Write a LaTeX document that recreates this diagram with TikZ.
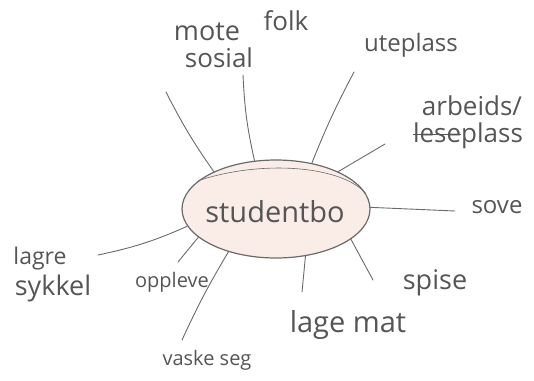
\documentclass[tikz,border=0pt]{standalone}
\usepackage{fontspec}
\setmainfont{Open Sans}
\usetikzlibrary{shapes.geometric}
\definecolor{ink}{HTML}{555555}
\definecolor{pencil}{HTML}{6A6A6A}
\definecolor{blush}{HTML}{FAEDE8}
\newlength\mystrkw
\newcommand\mystrike[1]{\settowidth{\mystrkw}{#1}\rlap{\rule[0.28em]{\mystrkw}{0.07em}}#1}
\tikzset{
  lab/.style={text=ink, inner sep=0pt, font=\fontsize{#1}{#1}\selectfont},
  lab/.default=22,
  spoke/.style={draw=pencil, line width=0.9pt, line cap=round},
  hub/.style={ellipse, draw=pencil, line width=1.2pt, fill=blush, minimum width=188pt, minimum height=98pt, inner sep=0pt}
}
\begin{document}
\begin{tikzpicture}[x=1pt,y=-1pt]
\useasboundingbox (0,0) rectangle (534,380);
\node[hub] (c) at (276,209) {};
\draw[pencil, line width=0.6pt] (c.160) .. controls (260,160) and (340,165) .. (c.10);
\node[lab=29] (studentbo) at (275,212) {studentbo};
% labels
\node[lab=27] (mote) at (207,32) {mote};
\node[lab=26] (folk) at (286,21) {folk};
\node[lab=26] (sosial) at (219,58) {sosial};
\node[lab=24] (uteplass) at (411,45) {uteplass};
\node[lab=26] (arbeids) at (472,106) {arbeids/};
\node[lab=26] (leseplass) at (468,136) {\mystrike{lese}plass};
\node[lab=24] (sove) at (497,207) {sove};
\node[lab=27] (spise) at (435,283) {spise};
\node[lab=29] (lagemat) at (348,325) {lage mat};
\node[lab=20] (vaskeseg) at (207,360) {vaske seg};
\node[lab=20] (oppleve) at (172,282) {oppleve};
\node[lab=23] (lagre) at (40,259) {lagre};
\node[lab=27] (sykkel) at (53,288) {sykkel};
% spoke ends
\coordinate (e1) at (166,92);
\coordinate (e2) at (243,75);
\coordinate (e3) at (354,72);
\coordinate (e4) at (385,144);
\coordinate (e5) at (455,211);
\coordinate (e6) at (373,280);
\coordinate (e7) at (302,292);
\coordinate (e8) at (182,340);
\coordinate (e9) at (178,262);
\coordinate (e10) at (98,255);
% spokes
\draw[spoke] (c.149) to[bend left=4] (e1);
\draw[spoke] (c.114) to[bend left=5] (e2);
\draw[spoke] (c.52) to[bend left=3] (e3);
\draw[spoke] (c.31) -- (e4);
\draw[spoke] (c.1) -- (e5);
\draw[spoke] (c.-22) -- (e6);
\draw[spoke] (c.-58) -- (e7);
\draw[spoke] (c.222) to[bend right=3] (e8);
\draw[spoke] (c.200) -- (e9);
\draw[spoke] (c.191) to[bend left=6] (e10);
\end{tikzpicture}
\end{document}
